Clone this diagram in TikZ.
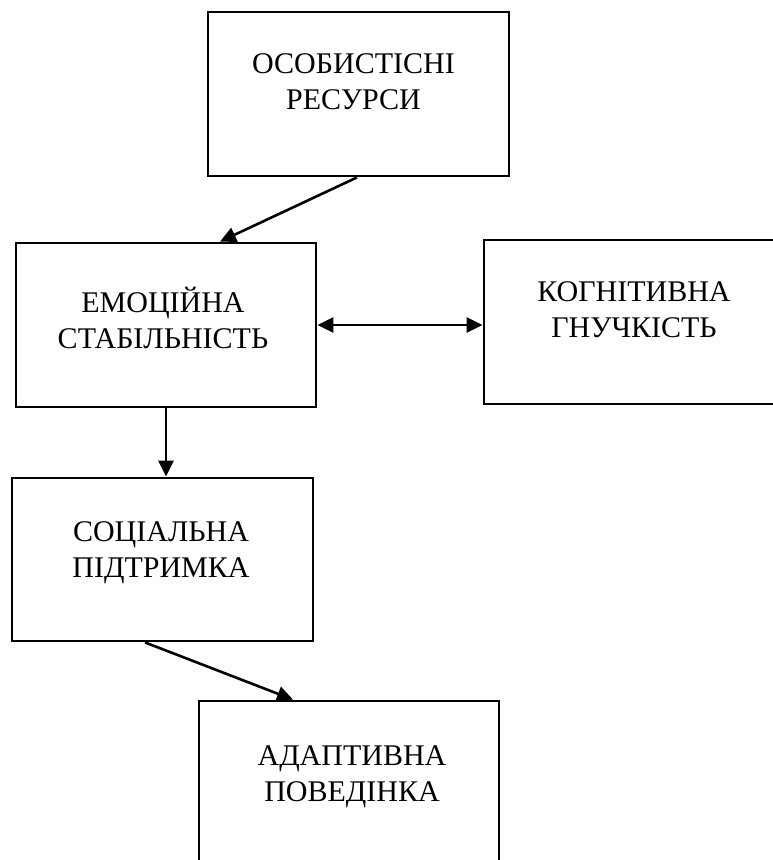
\documentclass[tikz,border=0pt]{standalone}
\usepackage{fontspec}
\setmainfont{Liberation Serif}
\usepackage{tikz}
\usetikzlibrary{arrows.meta,positioning,calc}

\begin{document}
\begin{tikzpicture}[
			x=1pt,y=-1pt,
			blok/.style={draw=black,line width=2.8pt,rectangle,minimum width=300pt,minimum height=164pt,inner sep=0pt},
			napys/.style={align=center,inner sep=0pt,font=\fontsize{30}{36}\selectfont},
			strilka/.style={-{Triangle[length=16pt,width=15pt]},line width=2.6pt,black}
			]
			\useasboundingbox (0,0) rectangle (773,860);
			\node[blok,minimum width=301pt] (osob) at (358.5,94) {};
			\node[blok] (emo) at (166,325) {};
			\node[blok] (kog) at (634,322) {};
			\node[blok,minimum width=301pt,minimum height=163pt] (soc) at (162.5,559.5) {};
			\node[blok] (adap) at (349,783) {};
			\node[napys] (osobt) at ([xshift=-5pt,yshift=12.5pt]osob.center) {ОСОБИСТІСНІ\\РЕСУРСИ};
			\node[napys] (emot) at ([xshift=-3pt,yshift=7pt]emo.center) {ЕМОЦІЙНА\\СТАБІЛЬНІСТЬ};
			\node[napys] (kogt) at ([yshift=12pt]kog.center) {КОГНІТИВНА\\ГНУЧКІСТЬ};
			\node[napys] (soct) at ([xshift=-1.5pt,yshift=7pt]soc.center) {СОЦІАЛЬНА\\ПІДТРИМКА};
			\node[napys] (adapt) at ([xshift=3pt,yshift=6pt]adap.center) {АДАПТИВНА\\ПОВЕДІНКА};
			\draw[strilka] ([xshift=-1.5pt]osob.south)--([xshift=54pt]emo.north);
			\draw[strilka,{Triangle[length=16pt,width=15pt]}-{Triangle[length=16pt,width=15pt]}] (emo.east)--(emo.east -| kog.west);
			\draw[strilka] (emo.south)--(emo.south |- soc.north);
			\draw[strilka] ([xshift=-17.5pt]soc.south)--([xshift=-56pt]adap.north);
		\end{tikzpicture}
\end{document}
